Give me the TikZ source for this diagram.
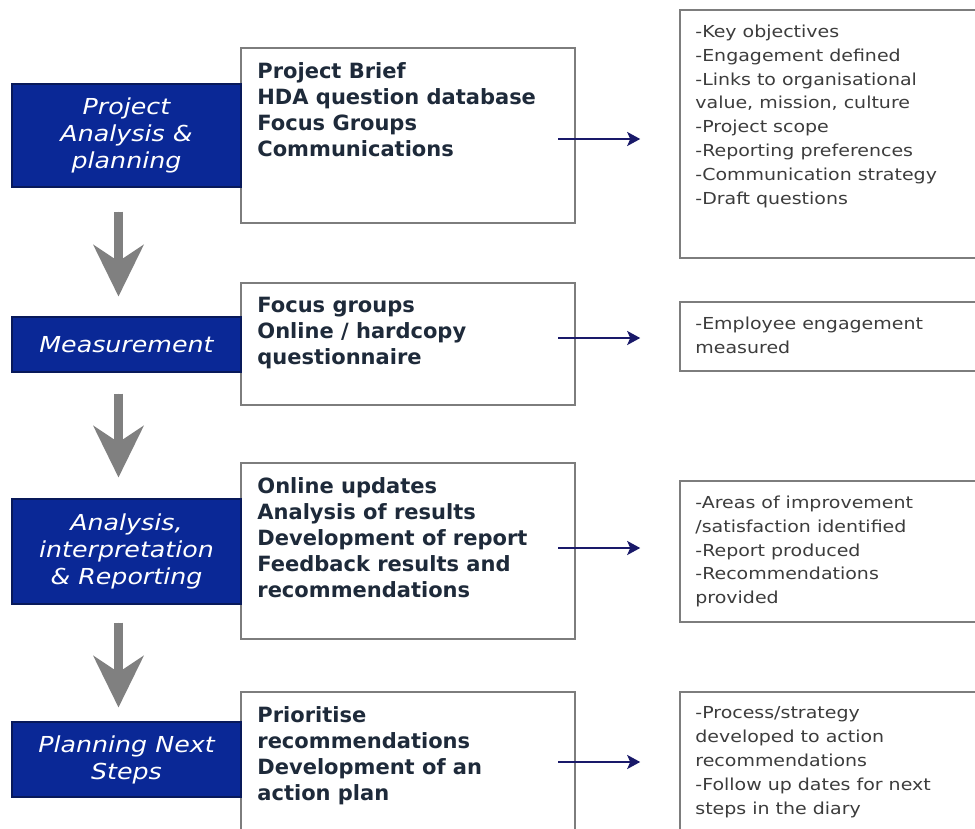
\documentclass[tikz,border=0pt]{standalone}
\usepackage{fontspec}
\setmainfont{DejaVu Sans}[FakeStretch=1.15]
\newfontfamily\toolfont{DejaVu Sans}
\usetikzlibrary{arrows.meta}
\definecolor{stageblue}{RGB}{10,40,150}
\definecolor{stageedge}{RGB}{8,25,90}
\definecolor{boxedge}{RGB}{125,125,125}
\definecolor{inktext}{RGB}{30,42,58}
\definecolor{notegray}{RGB}{60,60,60}
\definecolor{flowblue}{RGB}{25,25,105}
\definecolor{downgray}{RGB}{128,128,128}
\begin{document}
\begin{tikzpicture}[x=1pt, y=-1pt]
    \tikzstyle{stage} = [rectangle, fill=stageblue, draw=stageedge, line width=1.2pt, minimum width=229pt, inner sep=0pt, text=white, align=center, font=\fontsize{22}{27}\selectfont\itshape]
    \tikzstyle{tools} = [rectangle, draw=boxedge, line width=1.6pt, minimum width=334pt, inner sep=0pt]
    \tikzstyle{outcome} = [rectangle, draw=boxedge, line width=1.6pt, minimum width=320pt, inner sep=0pt]
    \tikzstyle{tooltext} = [anchor=north west, inner sep=0pt, align=left, text=inktext, font=\toolfont\fontsize{21}{26}\selectfont\bfseries]
    \tikzstyle{notetext} = [anchor=north west, inner sep=0pt, align=left, text=notegray, font=\fontsize{16.5}{23.8}\selectfont]
    \tikzstyle{flow} = [-{Stealth[length=13pt, width=14pt, inset=3pt]}, draw=flowblue, line width=2pt]
    \tikzstyle{down} = [-{Stealth[length=52pt, width=51pt, inset=17pt, line width=0pt]}, draw=downgray, fill=downgray, line width=9pt]

    \useasboundingbox (0,0) rectangle (975,829);
    \clip (0,0) rectangle (975,829);
    \fill[white] (0,0) rectangle (975,829);

    \node[tools, minimum height=175pt] (tools1) at (408,135.5) {};
    \node[tools, minimum height=122pt] (tools2) at (408,344) {};
    \node[tools, minimum height=176pt] (tools3) at (408,551) {};
    \node[tools, minimum height=160pt] (tools4) at (408,772) {};

    \node[outcome, minimum height=248pt] (outcome1) at (840,134) {};
    \node[outcome, minimum height=69pt] (outcome2) at (840,336.5) {};
    \node[outcome, minimum height=141pt] (outcome3) at (840,551.5) {};
    \node[outcome, minimum height=160pt] (outcome4) at (840,772) {};

    \node[stage, minimum height=103pt] (stage1) at (126.5,135.5) {Project\\Analysis \&\\planning};
    \node[stage, minimum height=55pt] (stage2) at (126.5,344.5) {Measurement};
    \node[stage, minimum height=105pt] (stage3) at (126.5,551.5) {Analysis,\\interpretation\\\& Reporting};
    \node[stage, minimum height=75pt] (stage4) at (126.5,759.5) {Planning Next\\Steps};

    \node[tooltext] (tools1text) at ([shift={(17,15)}]tools1.north west) {Project Brief\\HDA question database\\Focus Groups\\Communications};
    \node[tooltext] (tools2text) at ([shift={(17,15)}]tools2.north west) {Focus groups\\Online / hardcopy\\questionnaire};
    \node[tooltext] (tools3text) at ([shift={(17,15)}]tools3.north west) {Online updates\\Analysis of results\\Development of report\\Feedback results and\\recommendations};
    \node[tooltext] (tools4text) at ([shift={(17,15)}]tools4.north west) {Prioritise\\recommendations\\Development of an\\action plan};

    \node[notetext] (outcome1text) at ([shift={(16,15.5)}]outcome1.north west) {-Key objectives\\-Engagement defined\\-Links to organisational\\value, mission, culture\\-Project scope\\-Reporting preferences\\-Communication strategy\\-Draft questions};
    \node[notetext] (outcome2text) at ([shift={(16,15.5)}]outcome2.north west) {-Employee engagement\\measured};
    \node[notetext] (outcome3text) at ([shift={(16,15.5)}]outcome3.north west) {-Areas of improvement\\/satisfaction identified\\-Report produced\\-Recommendations\\provided};
    \node[notetext] (outcome4text) at ([shift={(16,15.5)}]outcome4.north west) {-Process/strategy\\developed to action\\recommendations\\-Follow up dates for next\\steps in the diary};

    \coordinate (flow1) at (558,139);
    \coordinate (flow2) at (558,338);
    \coordinate (flow3) at (558,548);
    \coordinate (flow4) at (558,762);
    \draw[flow, shorten >=39pt] (flow1) -- (flow1 -| outcome1.west);
    \draw[flow, shorten >=39pt] (flow2) -- (flow2 -| outcome2.west);
    \draw[flow, shorten >=39pt] (flow3) -- (flow3 -| outcome3.west);
    \draw[flow, shorten >=39pt] (flow4) -- (flow4 -| outcome4.west);

    \draw[down, shorten <=24pt, shorten >=20pt] ([xshift=-8pt]stage1.south) -- ([xshift=-8pt]stage2.north);
    \draw[down, shorten <=21pt, shorten >=21pt] ([xshift=-8pt]stage2.south) -- ([xshift=-8pt]stage3.north);
    \draw[down, shorten <=18pt, shorten >=14pt] ([xshift=-8pt]stage3.south) -- ([xshift=-8pt]stage4.north);

\end{tikzpicture}
\end{document}
